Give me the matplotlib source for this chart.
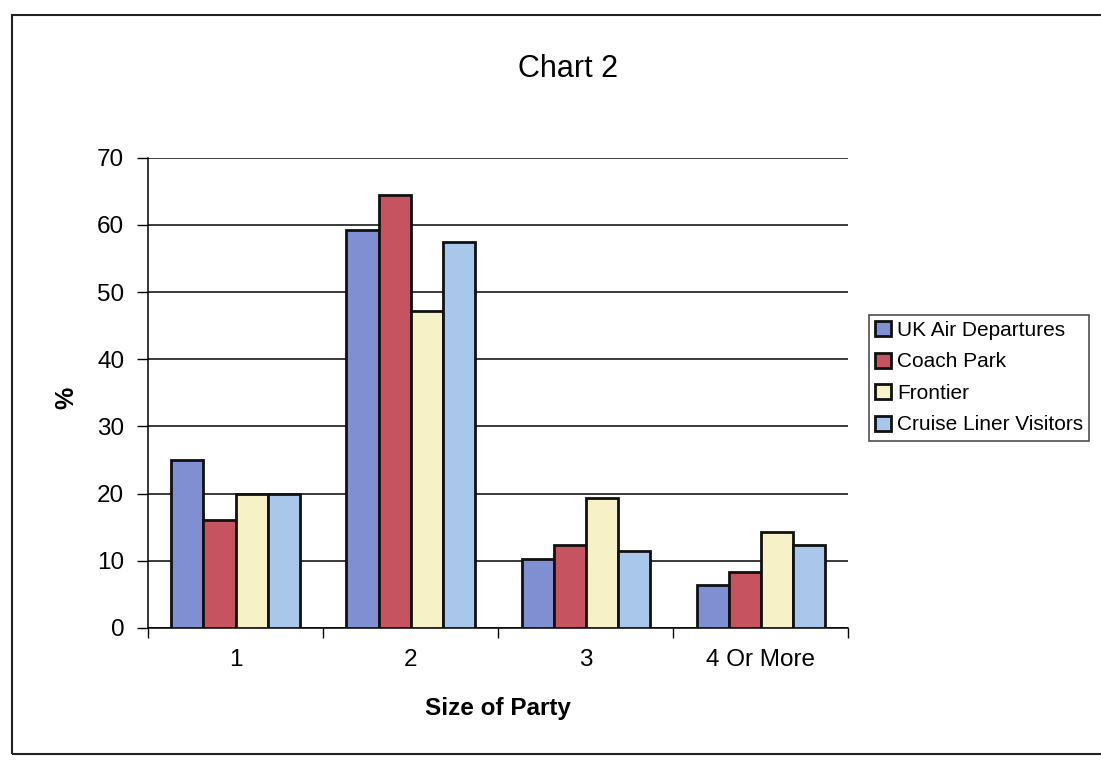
import matplotlib
matplotlib.use("Agg")
import matplotlib.pyplot as plt
import numpy as np
from matplotlib.patches import Rectangle

# Data
categories = ["1", "2", "3", "4 Or More"]
series_names = ["UK Air Departures", "Coach Park", "Frontier", "Cruise Liner Visitors"]
uk_air = [25.0, 59.3, 10.3, 6.4]
coach_park = [16.0, 64.4, 12.4, 8.3]
frontier = [20.0, 47.2, 19.4, 14.3]
cruise = [20.0, 57.4, 11.5, 12.4]
colors = ["#7f8fd2", "#c65360", "#f6f1c6", "#a9c7ea"]
y_ticks = [0, 10, 20, 30, 40, 50, 60, 70]

plt.rcParams["font.family"] = ["Liberation Sans", "DejaVu Sans"]

fig = plt.figure(figsize=(11.01, 7.62), dpi=100)
fig.patch.set_facecolor("white")
ax = fig.add_axes([0.1344, 0.176, 0.636, 0.617])

x = np.arange(len(categories))
w = 0.183
all_series = [uk_air, coach_park, frontier, cruise]
for i, (vals, name, col) in enumerate(zip(all_series, series_names, colors)):
    ax.bar(x + (i - 1.5) * w, vals, width=w, color=col, edgecolor="#111111",
           linewidth=2, label=name, zorder=3)

ax.set_xlim(-0.5, len(categories) - 0.5)
ax.set_ylim(0, 70)
ax.set_yticks(y_ticks)
ax.yaxis.grid(True, color="#1a1a1a", linewidth=1.2, zorder=0)
ax.tick_params(axis="y", labelsize=17.5, length=8, width=1, direction="out", pad=9)

# category labels, tick marks between categories
ax.set_xticks(x)
ax.set_xticklabels(categories, fontsize=17.5)
ax.tick_params(axis="x", which="major", length=0, pad=15)
ax.set_xticks(np.arange(-0.5, len(categories)), minor=True)
ax.tick_params(axis="x", which="minor", length=7, width=1, direction="out")

for s in ["top", "right"]:
    ax.spines[s].set_visible(False)
ax.spines["left"].set_linewidth(1.1)
ax.spines["bottom"].set_linewidth(1.1)

ax.set_xlabel("Size of Party", fontsize=17.5, fontweight="bold")
ax.set_ylabel("%", fontsize=18, fontweight="bold")
ax.xaxis.set_label_coords(0.5, -0.148)
ax.yaxis.set_label_coords(-0.1, 0.49)
fig.text(0.516, 0.91, "Chart 2", fontsize=22, ha="center", va="center")

leg = fig.legend(loc="upper left", bbox_to_anchor=(0.789, 0.587), fontsize=15,
                 frameon=True, fancybox=False, edgecolor="#222222",
                 handlelength=0.75, handleheight=0.75, handletextpad=0.3,
                 labelspacing=0.6, borderpad=0.3, borderaxespad=0)
leg.get_frame().set_linewidth(1.2)

# outer border of the chart area
fig.patches.append(Rectangle((0.011, 0.01), 1.2, 0.97, transform=fig.transFigure,
                             fill=False, edgecolor="#222222", linewidth=1.5))

fig.savefig("out.png", dpi=100)
